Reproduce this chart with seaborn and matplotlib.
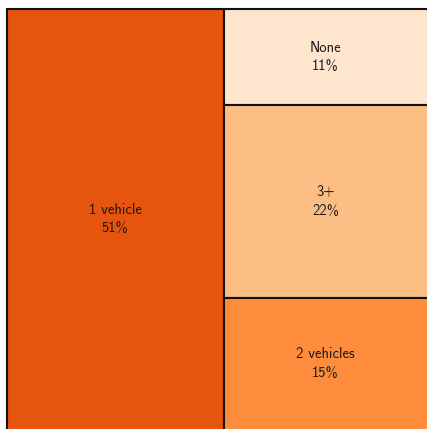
import matplotlib
matplotlib.use("Agg")
import matplotlib.pyplot as plt
import seaborn as sns
from matplotlib.patches import Rectangle

categories = ["1 vehicle", "None", "3+", "2 vehicles"]
shares = [51, 11, 22, 15]
colors = ["#e6550d", "#fee6ce", "#fdbe85", "#fd8d3c"]

sns.set_theme(style="white")
plt.rcParams['font.family'] = ['cmss10', 'DejaVu Sans']

W, H = 427, 429
fig = plt.figure(figsize=((W + 0.3) / 100, (H + 0.3) / 100), dpi=100)
left, top = 7, 9
ax = fig.add_axes([left / W, 0, (W - left) / W, (H - top) / H])
total = float(sum(shares))
ax.set_xlim(0, total)
ax.set_ylim(0, total)
ax.set_axis_off()

# squarified-style layout: first item full height, rest stacked on the right
rects = []
w0 = shares[0]
rects.append((0, 0, w0, total))
rest = sum(shares[1:])
y = total
for s in shares[1:]:
    h = s / rest * total
    y -= h
    rects.append((w0, y, total - w0, h))

pad = total * 0.05  # push right/bottom borders off the canvas (cropped view)
for (x0, y0, w, h), cat, s, c in zip(rects, categories, shares, colors):
    cx, cy = x0 + w / 2, y0 + h / 2
    if x0 + w >= total - 1e-9:
        w += pad
    if y0 <= 1e-9:
        y0 -= pad
        h += pad
    ax.add_patch(Rectangle((x0, y0), w, h, facecolor=c, edgecolor="#111111",
                           linewidth=1.5, clip_on=False))
    ax.text(cx, cy, f"{cat}\n{s}%", ha="center", va="center",
            fontsize=10.5, color="#1a1a1a", linespacing=1.4)

fig.savefig("out.png", dpi=100)
